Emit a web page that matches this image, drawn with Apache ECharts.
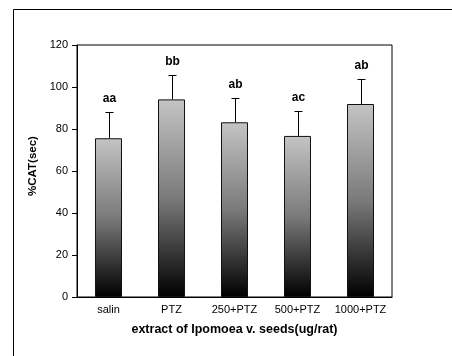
<!DOCTYPE html>
<html>
<head>
<meta charset="utf-8">
<script src="https://cdn.jsdelivr.net/npm/echarts@6/dist/echarts.min.js"></script>
<style>
  html, body { margin: 0; padding: 0; background: #fff; }
  #chart { width: 452px; height: 356px; }
</style>
</head>
<body>
<div id="chart"></div>
<script>
const categories = ['salin', 'PTZ', '250+PTZ', '500+PTZ', '1000+PTZ'];
const means = [75.6, 94.1, 83.2, 76.7, 91.9];
const errors = [12.4, 11.8, 11.7, 11.9, 11.8];
const letters = ['aa', 'bb', 'ab', 'ac', 'ab'];
const yTicks = [0, 20, 40, 60, 80, 100, 120];

const chart = echarts.init(document.getElementById('chart'));

const option = {
  animation: false,
  backgroundColor: '#fff',
  textStyle: { fontFamily: 'Liberation Sans, Arial, sans-serif' },
  graphic: [
    {
      type: 'rect',
      shape: { x: 13.5, y: 9.5, width: 600, height: 600 },
      style: { fill: 'none', stroke: '#000', lineWidth: 1 },
      silent: true,
      z: -1
    }
  ],
  grid: {
    left: 77,
    right: 60,
    top: 45,
    bottom: 59,
    show: true,
    borderColor: '#000',
    borderWidth: 1,
    backgroundColor: 'transparent'
  },
  xAxis: {
    type: 'category',
    data: categories,
    name: 'extract of Ipomoea v. seeds(ug/rat)',
    nameLocation: 'middle',
    nameGap: 26,
    nameTextStyle: { fontSize: 12.5, fontWeight: 'bold', color: '#000' },
    axisLine: { lineStyle: { color: '#000', width: 1 } },
    axisTick: { show: false },
    axisLabel: { color: '#000', fontSize: 11, margin: 7, interval: 0 }
  },
  yAxis: {
    type: 'value',
    min: yTicks[0],
    max: yTicks[yTicks.length - 1],
    interval: 20,
    name: '%CAT(sec)',
    nameLocation: 'middle',
    nameGap: 36,
    nameTextStyle: { fontSize: 11.5, fontWeight: 'bold', color: '#000', padding: [0, 0, 0, 10] },
    axisLine: { show: true, lineStyle: { color: '#000', width: 1 } },
    axisTick: { show: true, length: 5, lineStyle: { color: '#000' } },
    axisLabel: { color: '#000', fontSize: 11, margin: 9 },
    splitLine: { show: false }
  },
  series: [
    {
      type: 'bar',
      data: means,
      barWidth: 27,
      itemStyle: {
        borderColor: '#111',
        borderWidth: 1,
        color: new echarts.graphic.LinearGradient(0, 0, 0, 1, [
          { offset: 0, color: '#c4c4c4' },
          { offset: 0.5, color: '#7a7a7a' },
          { offset: 1, color: '#000' }
        ])
      },
      z: 2
    },
    {
      type: 'custom',
      data: means.map((m, i) => [i, m, m + errors[i], letters[i]]),
      renderItem: function (params, api) {
        const base = api.coord([api.value(0), api.value(1)]);
        const top = api.coord([api.value(0), api.value(2)]);
        const x = Math.round(base[0]) + 0.5;
        const yt = Math.round(top[1]) + 0.5;
        return {
          type: 'group',
          children: [
            {
              type: 'line',
              shape: { x1: x, y1: base[1], x2: x, y2: yt },
              style: { stroke: '#000', lineWidth: 1 }
            },
            {
              type: 'line',
              shape: { x1: x - 4, y1: yt, x2: x + 4, y2: yt },
              style: { stroke: '#000', lineWidth: 1 }
            },
            {
              type: 'text',
              style: {
                x: x,
                y: yt - 8,
                text: letters[params.dataIndex],
                align: 'center',
                verticalAlign: 'bottom',
                fontSize: 12,
                fontWeight: 'bold',
                fontFamily: 'Liberation Sans, Arial, sans-serif',
                fill: '#000'
              }
            }
          ]
        };
      },
      z: 1
    }
  ]
};

chart.setOption(option);
</script>
</body>
</html>
